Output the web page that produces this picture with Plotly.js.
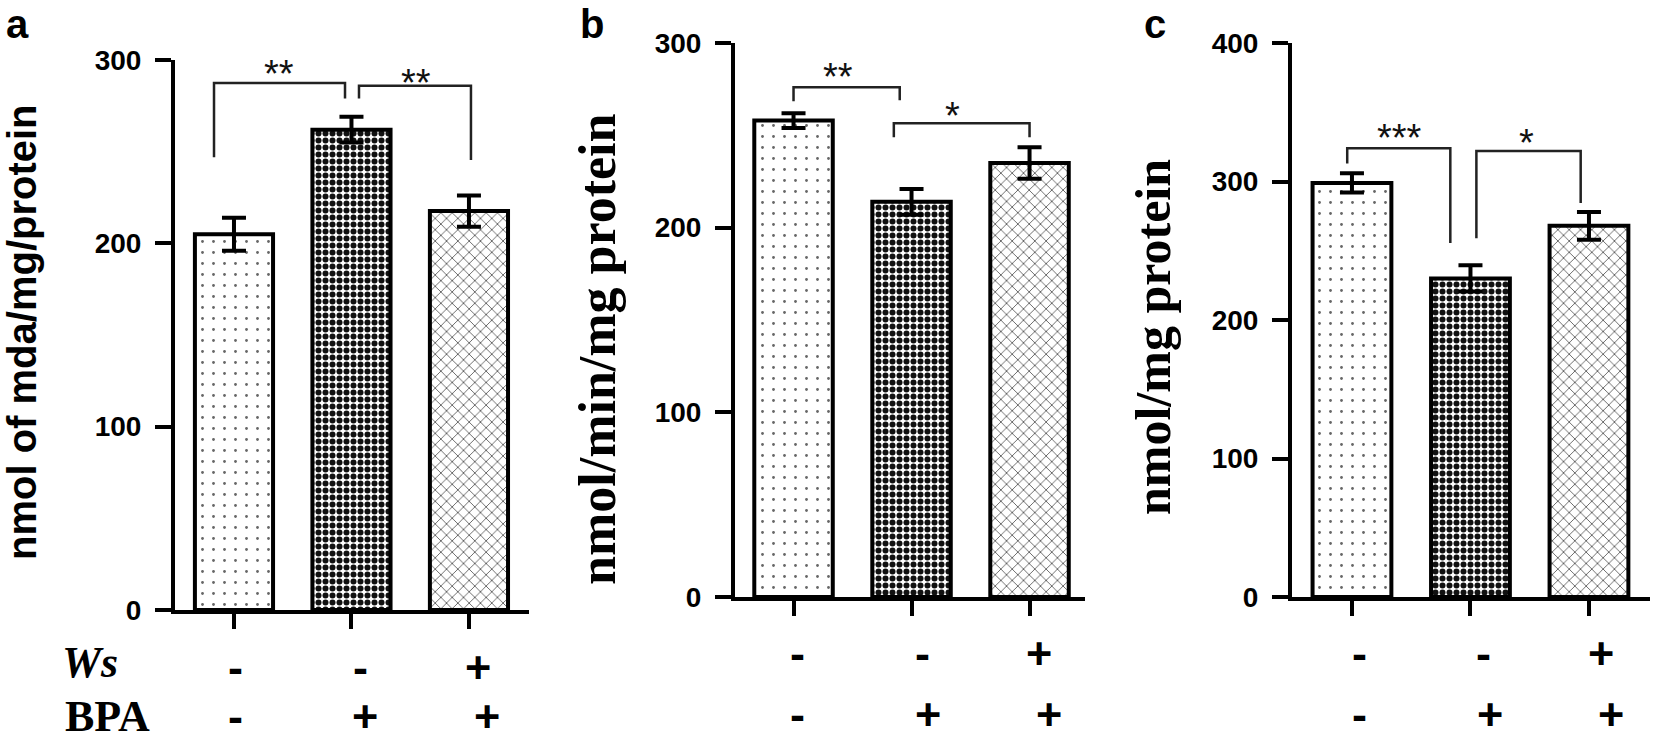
<!DOCTYPE html>
<html>
<head>
<meta charset="utf-8">
<script src="https://cdn.plot.ly/plotly-3.0.1.min.js"></script>
<style>html,body{margin:0;padding:0;background:#fff;}#chart{width:1654px;height:744px;}</style>
</head>
<body>
<div id="chart"></div>
<script>
// ---------------- data ----------------
const categories = ['Control', 'BPA', 'Ws + BPA'];
const wsSigns = ['-', '-', '+'];
const bpaSigns = ['-', '+', '+'];

const mdaMean = [205, 262, 217.6];
const mdaErr = [9, 7, 8.5];
const activityMean = [258, 214, 235];
const activityErr = [4, 7, 8.5];
const nmolMean = [299, 230, 268];
const nmolErr = [7, 9.5, 10];

const yTitles = ['nmol of mda/mg/protein', 'nmol/min/mg protein', 'nmol/mg protein'];
const panelLetters = ['a', 'b', 'c'];
const rowLabels = ['Ws', 'BPA'];

// significance brackets: [xFrom, xTo, topValue, leftLegBottom, rightLegBottom]
const bracketsA = [[-0.17, 0.945, 287.5, 247, 279], [1.064, 2.017, 286, 279, 245.5]];
const bracketsB = [[0.0, 0.90, 276, 268.5, 269], [0.85, 2.0, 256.6, 249, 249]];
const bracketsC = [[-0.04, 0.83, 324, 313, 255.6], [1.05, 1.93, 322, 259, 284.5]];
// star labels: [text, x, y]
const starsA = [['**', 0.38, 297], ['**', 1.55, 292]];
const starsB = [['**', 0.38, 286], ['*', 1.35, 265]];
const starsC = [['***', 0.40, 337], ['*', 1.47, 333.5]];

// ---------------- layout helpers ----------------
const W = 1654, H = 744;
const px2x = p => p / W;
const py2y = p => 1 - p / H;
const SANS = 'Liberation Sans, Arial, sans-serif';
const SERIF = 'Liberation Serif, Times New Roman, serif';

const panels = [
  {mean: mdaMean, err: mdaErr, br: bracketsA, st: starsA,
   xdom: [175, 529], ydom: [60, 610], xr: [-0.502, 2.511], yr: [0, 300],
   titleX: 22, titleY: 332, titleFont: {family: SANS, size: 40, weight: 700},
   letterX: 17, letterY: 24, wsY: 667, bpaY: 716,
   wsOff: [2, 9, 9], bpaOff: [2, 14, 18], rowLabels: true},
  {mean: activityMean, err: activityErr, br: bracketsB, st: starsB,
   xdom: [735, 1085], ydom: [43, 597], xr: [-0.496, 2.47], yr: [0, 300],
   titleX: 597, titleY: 350, titleFont: {family: SERIF, size: 52, weight: 700},
   letterX: 592, letterY: 24, wsY: 653, bpaY: 714,
   wsOff: [4, 11, 9], bpaOff: [4, 16, 19], rowLabels: false},
  {mean: nmolMean, err: nmolErr, br: bracketsC, st: starsC,
   xdom: [1292, 1650], ydom: [43, 597], xr: [-0.506, 2.515], yr: [0, 400],
   titleX: 1153, titleY: 337, titleFont: {family: SERIF, size: 50, weight: 700},
   letterX: 1155, letterY: 24, wsY: 653, bpaY: 714,
   wsOff: [8, 13, 12], bpaOff: [8, 20, 22], rowLabels: false}
];

const xIdx = categories.map((_, i) => i);
const traces = [];
const shapes = [];
const annotations = [];
const layout = {
  width: W, height: H, autosize: false,
  margin: {l: 0, r: 0, t: 0, b: 0},
  paper_bgcolor: '#fff', plot_bgcolor: 'rgba(0,0,0,0)',
  showlegend: false
};

panels.forEach((p, k) => {
  const sfx = k === 0 ? '' : String(k + 1);
  const xa = 'x' + sfx, ya = 'y' + sfx;
  traces.push({
    type: 'bar', x: xIdx, y: p.mean, xaxis: xa, yaxis: ya,
    width: 0.665,
    marker: {
      color: 'white',
      line: {color: '#000', width: 4},
      pattern: {
        shape: ['.', '.', 'x'],
        fgcolor: ['#666', '#111', '#555'],
        bgcolor: 'white',
        size: [11, 7, 8],
        solidity: [0.05, 0.58, 0.2]
      }
    },
    error_y: {type: 'data', array: p.err, visible: true, color: '#000', thickness: 4, width: 12},
    hoverinfo: 'skip'
  });
  layout['xaxis' + sfx] = {
    domain: [px2x(p.xdom[0]), px2x(p.xdom[1])], range: p.xr, anchor: ya,
    showline: true, linewidth: 4, linecolor: '#000', mirror: false,
    ticks: 'outside', ticklen: 15, tickwidth: 4, tickcolor: '#000',
    tickvals: xIdx, showticklabels: false, showgrid: false, zeroline: false, fixedrange: true
  };
  layout['yaxis' + sfx] = {
    domain: [py2y(p.ydom[1]), py2y(p.ydom[0])], range: p.yr, anchor: xa,
    showline: true, linewidth: 4, linecolor: '#000',
    ticks: 'outside', ticklen: 16, tickwidth: 4, tickcolor: '#000',
    tick0: 0, dtick: 100, ticklabelstandoff: 8,
    tickfont: {family: SANS, size: 28, weight: 700, color: '#000'},
    showgrid: false, zeroline: false, fixedrange: true
  };
  // brackets
  p.br.forEach(b => {
    shapes.push({
      type: 'path', xref: xa, yref: ya,
      path: `M ${b[0]},${b[3]} L ${b[0]},${b[2]} L ${b[1]},${b[2]} L ${b[1]},${b[4]}`,
      line: {color: '#222', width: 2.5}
    });
  });
  // stars
  p.st.forEach(s => {
    annotations.push({
      xref: xa, yref: ya, x: s[1], y: s[2], text: s[0], showarrow: false,
      xanchor: 'center', yanchor: 'middle', yshift: -8,
      font: {family: SANS, size: 38, color: '#111'}
    });
  });
  // y title
  annotations.push({
    xref: 'paper', yref: 'paper', x: px2x(p.titleX), y: py2y(p.titleY),
    xanchor: 'center', yanchor: 'middle', textangle: -90, showarrow: false,
    text: yTitles[k], font: Object.assign({color: '#000'}, p.titleFont)
  });
  // panel letter
  annotations.push({
    xref: 'paper', yref: 'paper', x: px2x(p.letterX), y: py2y(p.letterY),
    xanchor: 'center', yanchor: 'middle', showarrow: false,
    text: panelLetters[k], font: {family: SANS, size: 40, weight: 700, color: '#000'}
  });
  // +/- rows
  xIdx.forEach(i => {
    annotations.push({
      xref: xa, yref: 'paper', x: i, y: py2y(p.wsY), xshift: p.wsOff[i],
      xanchor: 'center', yanchor: 'middle', showarrow: false,
      text: wsSigns[i], font: {family: SANS, size: 45, weight: 700, color: '#000'}
    });
    annotations.push({
      xref: xa, yref: 'paper', x: i, y: py2y(p.bpaY), xshift: p.bpaOff[i],
      xanchor: 'center', yanchor: 'middle', showarrow: false,
      text: bpaSigns[i], font: {family: SANS, size: 45, weight: 700, color: '#000'}
    });
  });
  if (p.rowLabels) {
    annotations.push({
      xref: 'paper', yref: 'paper', x: px2x(60), y: py2y(662),
      xanchor: 'left', yanchor: 'middle', showarrow: false,
      text: rowLabels[0], font: {family: SERIF, size: 44, weight: 700, style: 'italic', color: '#000'}
    });
    annotations.push({
      xref: 'paper', yref: 'paper', x: px2x(63), y: py2y(716),
      xanchor: 'left', yanchor: 'middle', showarrow: false,
      text: rowLabels[1], font: {family: SERIF, size: 44, weight: 700, color: '#000'}
    });
  }
});

layout.shapes = shapes;
layout.annotations = annotations;

Plotly.newPlot('chart', traces, layout, {staticPlot: true, displayModeBar: false});
</script>
</body>
</html>
